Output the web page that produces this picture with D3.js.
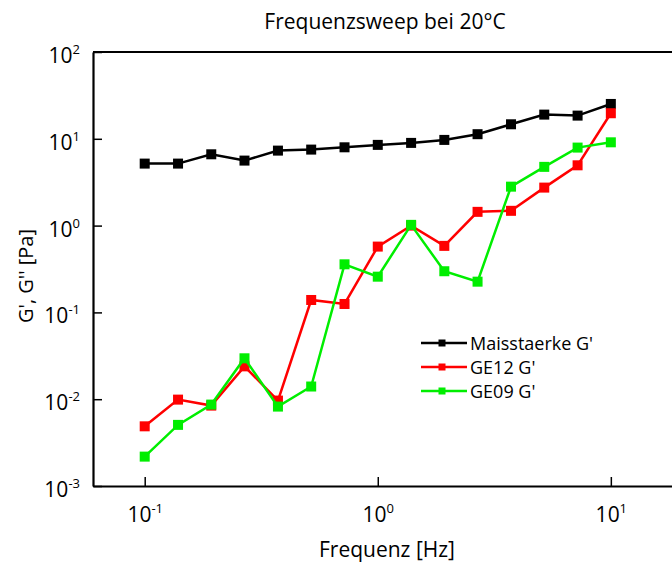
<!DOCTYPE html>
<html>
<head>
<meta charset="utf-8">
<script src="https://cdn.jsdelivr.net/npm/d3@7"></script>
<style>
  body { margin: 0; background: #fff; }
  svg { font-family: "Open Sans", sans-serif; }
</style>
</head>
<body>
<div id="chart"></div>
<script>
(() => {
  const width = 672;
  const height = 564;

  // frequency [Hz]
  const freq = [0.1, 0.139, 0.193, 0.268, 0.373, 0.518, 0.72, 1, 1.39, 1.93, 2.68, 3.73, 5.18, 7.2, 10];
  const maisstaerke = [5.18, 5.18, 6.63, 5.61, 7.31, 7.51, 7.98, 8.51, 8.97, 9.71, 11.3, 14.7, 19.0, 18.5, 25.2];
  const ge12 = [0.00487, 0.00989, 0.00844, 0.0239, 0.00964, 0.139, 0.125, 0.573, 1.0, 0.584, 1.44, 1.48, 2.74, 4.95, 19.7];
  const ge09 = [0.00218, 0.00506, 0.00867, 0.0296, 0.00822, 0.014, 0.358, 0.258, 1.02, 0.298, 0.226, 2.81, 4.75, 7.92, 9.11];

  const seriesNames = ["Maisstaerke G'", "GE12 G'", "GE09 G'"];
  const seriesColors = ["#000000", "#ff0000", "#00ee00"];
  const seriesValues = [maisstaerke, ge12, ge09];

  const xMajor = [0.1, 1, 10];
  const yMajor = [1e-3, 1e-2, 1e-1, 1, 10, 100];

  const x = d3.scaleLog().domain([0.06, 20]).range([93, 681]);
  const y = d3.scaleLog().domain([1e-3, 1e2]).range([486, 52]);

  const svg = d3.select("#chart").append("svg")
    .attr("width", width)
    .attr("height", height);

  // minor ticks
  const xMinor = x.ticks().filter((d) => !xMajor.some((m) => Math.abs(m - d) < 1e-9));
  const yMinor = y.ticks().filter((d) => !yMajor.some((m) => Math.abs(m - d) / m < 1e-9));

  const fmtExp = (sel, d) => {
    const e = Math.round(Math.log10(d));
    sel.text(null);
    sel.append("tspan").text("10");
    sel.append("tspan").attr("font-size", 13).attr("dy", -9).text(e);
  };

  // x axis
  const gx = svg.append("g").attr("transform", `translate(0,${y.range()[0]})`);
  gx.call(d3.axisBottom(x).tickValues(xMinor).tickSize(-5).tickSizeOuter(0).tickFormat(""));
  gx.call(d3.axisBottom(x).tickValues(xMajor).tickSize(-9).tickSizeOuter(0).tickPadding(21));
  gx.selectAll("text").attr("font-size", 21).attr("fill", "#000")
    .attr("font-family", "Open Sans, sans-serif")
    .each(function (d) { fmtExp(d3.select(this), d); });

  // y axis
  const gy = svg.append("g").attr("transform", `translate(${x.range()[0]},0)`);
  gy.call(d3.axisLeft(y).tickValues(yMinor).tickSize(-5).tickSizeOuter(0).tickFormat(""));
  gy.call(d3.axisLeft(y).tickValues(yMajor).tickSize(-9).tickSizeOuter(0).tickPadding(13));
  gy.selectAll("text").attr("font-size", 21).attr("fill", "#000")
    .attr("font-family", "Open Sans, sans-serif")
    .attr("dy", "0.5em")
    .each(function (d) { fmtExp(d3.select(this), d); });

  svg.selectAll(".domain").attr("stroke", "#000").attr("stroke-width", 2.2);
  svg.selectAll(".tick line").attr("stroke", "#000").attr("stroke-width", 1.5);

  // top frame
  svg.append("line")
    .attr("x1", x.range()[0]).attr("x2", x.range()[1])
    .attr("y1", y.range()[1]).attr("y2", y.range()[1])
    .attr("stroke", "#000").attr("stroke-width", 2.2);

  // series
  const line = d3.line().x((d) => x(d[0])).y((d) => y(d[1]));
  seriesValues.forEach((vals, i) => {
    const pts = freq.map((f, j) => [f, vals[j]]);
    svg.append("path")
      .attr("d", line(pts))
      .attr("fill", "none")
      .attr("stroke", seriesColors[i])
      .attr("stroke-width", 2.5);
    svg.append("g").selectAll("rect")
      .data(pts)
      .join("rect")
      .attr("x", (d) => x(d[0]) - 5)
      .attr("y", (d) => y(d[1]) - 5)
      .attr("width", 10)
      .attr("height", 10)
      .attr("fill", seriesColors[i]);
  });

  // legend
  const legend = svg.append("g").attr("transform", "translate(421,343)");
  seriesNames.forEach((name, i) => {
    const g = legend.append("g").attr("transform", `translate(0,${i * 24})`);
    g.append("line").attr("x1", 0).attr("x2", 46).attr("y1", 0).attr("y2", 0)
      .attr("stroke", seriesColors[i]).attr("stroke-width", 2.5);
    g.append("rect").attr("x", 17.5).attr("y", -3.5).attr("width", 7).attr("height", 7)
      .attr("fill", seriesColors[i]);
    g.append("text").attr("x", 49).attr("y", 6.5).attr("font-size", 18).text(name);
  });

  // titles
  svg.append("text")
    .attr("x", 385).attr("y", 29)
    .attr("text-anchor", "middle")
    .attr("font-size", 21)
    .text("Frequenzsweep bei 20°C");

  svg.append("text")
    .attr("x", 387).attr("y", 557)
    .attr("text-anchor", "middle")
    .attr("font-size", 21)
    .text("Frequenz [Hz]");

  svg.append("text")
    .attr("transform", "translate(33,276) rotate(-90)")
    .attr("text-anchor", "middle")
    .attr("font-size", 20)
    .text("G', G'' [Pa]");
})();
</script>
</body>
</html>
